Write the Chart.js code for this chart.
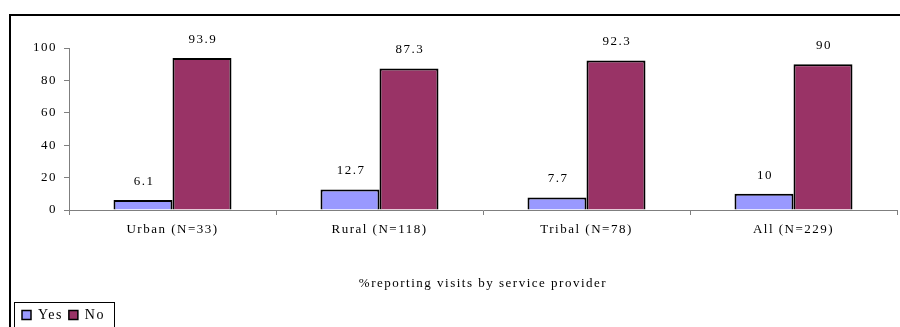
<!DOCTYPE html>
<html>
<head>
<meta charset="utf-8">
<script src="https://cdn.jsdelivr.net/npm/chart.js@4/dist/chart.umd.min.js"></script>
<style>
  html, body { margin: 0; padding: 0; background: #fff; }
  #wrap { width: 900px; height: 327px; position: relative; }
</style>
</head>
<body>
<div id="wrap"><canvas id="visitChart" width="900" height="327"></canvas></div>
<script>
// Visits by service provider, by area
const categories = ['Urban (N=33)', 'Rural (N=118)', 'Tribal (N=78)', 'All (N=229)'];
const yesValues = [6.1, 12.7, 7.7, 10];
const noValues = [93.9, 87.3, 92.3, 90];
const yTicks = [0, 20, 40, 60, 80, 100];

const serif = "'Liberation Serif', 'Times New Roman', serif";
const axisGrey = '#7f7f7f';

// wide letter spacing on all canvas text
const spacing = {
  id: 'spacing',
  beforeLayout(chart) { chart.ctx.letterSpacing = '1.5px'; },
  beforeDraw(chart) { chart.ctx.letterSpacing = '1.5px'; }
};

// outer frame (top and left edges only show)
const framePlugin = {
  id: 'frame',
  beforeDraw(chart) {
    const ctx = chart.ctx;
    ctx.save();
    ctx.strokeStyle = '#000';
    ctx.lineWidth = 2;
    ctx.beginPath();
    ctx.moveTo(10, 327);
    ctx.lineTo(10, 15);
    ctx.lineTo(900, 15);
    ctx.stroke();
    ctx.restore();
  }
};

// value labels above each bar
const valueLabels = {
  id: 'valueLabels',
  afterDatasetsDraw(chart) {
    const ctx = chart.ctx;
    ctx.save();
    ctx.font = '13px ' + serif;
    ctx.fillStyle = '#000';
    ctx.textAlign = 'center';
    ctx.textBaseline = 'bottom';
    chart.data.datasets.forEach((ds, i) => {
      chart.getDatasetMeta(i).data.forEach((bar, j) => {
        ctx.fillText(String(ds.data[j]), bar.x + 1, bar.y - 12);
      });
    });
    ctx.restore();
  }
};

// box round the legend
const legendBox = {
  id: 'legendBox',
  afterDraw(chart) {
    const lg = chart.legend;
    if (!lg || !lg.legendHitBoxes.length) return;
    const ctx = chart.ctx;
    ctx.save();
    ctx.strokeStyle = '#000';
    ctx.lineWidth = 1;
    ctx.strokeRect(14.5, lg.top + 0.5, 100, 40);
    ctx.restore();
  }
};

new Chart(document.getElementById('visitChart').getContext('2d'), {
  type: 'bar',
  data: {
    labels: categories,
    datasets: [
      { label: 'Yes', data: yesValues, backgroundColor: '#9999FF', borderColor: '#000', borderWidth: 2 },
      { label: 'No', data: noValues, backgroundColor: '#993366', borderColor: '#000', borderWidth: 2 }
    ]
  },
  options: {
    responsive: false,
    animation: false,
    layout: { padding: { left: 16, right: 3, top: 48, bottom: 0 } },
    datasets: { bar: { categoryPercentage: 0.57, barPercentage: 1.0 } },
    plugins: {
      tooltip: { enabled: false },
      legend: {
        position: 'bottom',
        align: 'start',
        maxHeight: 25,
        labels: {
          boxWidth: 9,
          boxHeight: 9,
          padding: 6,
          color: '#000',
          font: { family: serif, size: 14 },
          generateLabels(chart) {
            return chart.data.datasets.map((ds, i) => ({
              text: ds.label,
              fillStyle: ds.backgroundColor,
              strokeStyle: '#000',
              lineWidth: 1.5,
              datasetIndex: i
            }));
          }
        }
      }
    },
    scales: {
      x: {
        afterFit(scale) { scale.height = 92; },
        grid: { drawOnChartArea: false, offset: true, tickLength: 5, color: axisGrey },
        border: { color: axisGrey },
        ticks: { color: '#000', padding: 7, maxRotation: 0, font: { family: serif, size: 13 } },
        title: {
          display: true,
          text: '%reporting visits by service provider',
          color: '#000',
          padding: { top: 0, bottom: 11 },
          font: { family: serif, size: 13 }
        }
      },
      y: {
        min: 0,
        max: 100,
        afterFit(scale) { scale.width = 53; },
        afterBuildTicks(scale) { scale.ticks = yTicks.map(v => ({ value: v })); },
        grid: { drawOnChartArea: false, tickLength: 5, color: axisGrey },
        border: { color: axisGrey },
        ticks: { color: '#000', padding: 7, font: { family: serif, size: 13 } }
      }
    }
  },
  plugins: [spacing, framePlugin, valueLabels, legendBox]
});
</script>
</body>
</html>
